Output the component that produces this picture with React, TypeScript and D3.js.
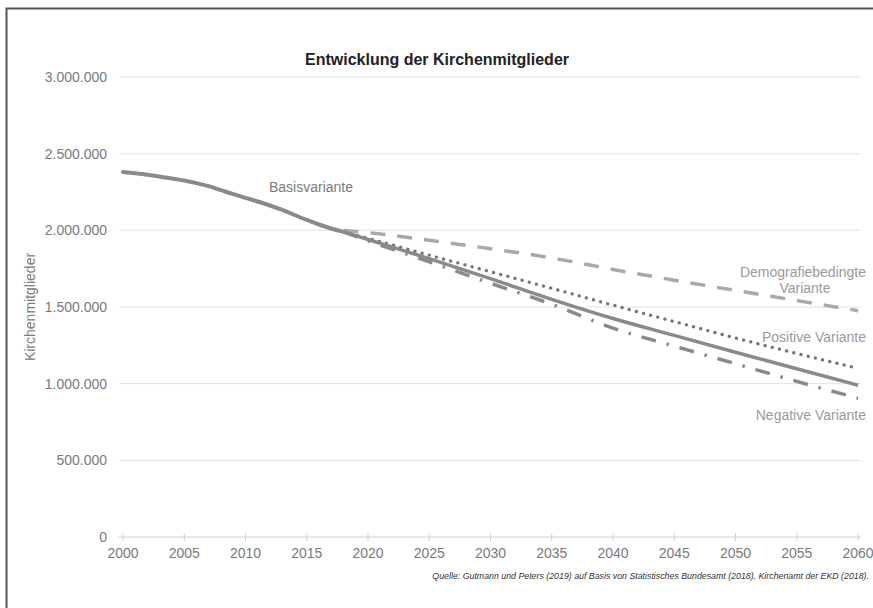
import * as d3 from "d3";

// Historical values (Basisvariante, annual)
const histYears = [2000, 2001, 2002, 2003, 2004, 2005, 2006, 2007, 2008, 2009, 2010, 2011, 2012, 2013, 2014, 2015, 2016, 2017, 2018];
const histValues = [2381000, 2372000, 2362000, 2350000, 2338000, 2325000, 2308000, 2288000, 2262000, 2236000, 2212000, 2188000, 2162000, 2133000, 2100000, 2068000, 2038000, 2012000, 1990000];

// Projection years and variants
const projYears = [2018, 2020, 2025, 2030, 2035, 2040, 2045, 2050, 2055, 2060];
const basisProj = [1990000, 1940000, 1815000, 1685000, 1550000, 1425000, 1315000, 1205000, 1097000, 990000];
const positiveProj = [1990000, 1948000, 1838000, 1730000, 1622000, 1512000, 1405000, 1298000, 1197000, 1100000];
const negativeProj = [1990000, 1932000, 1795000, 1655000, 1518000, 1362000, 1245000, 1130000, 1015000, 905000];
const demografieProj = [2000000, 1985000, 1935000, 1880000, 1820000, 1745000, 1675000, 1608000, 1542000, 1476000];

const xTicks = d3.range(2000, 2061, 5);
const yTicks = [0, 500000, 1000000, 1500000, 2000000, 2500000, 3000000];

const W = 873;
const H = 608;
const font = "Liberation Sans, Arial, sans-serif";

const fmt = (v: number) => (v === 0 ? "0" : d3.format(",")(v).replace(/,/g, "."));

export default function App() {
  const x = d3.scaleLinear().domain([2000, 2060]).range([123, 858]);
  const y = d3.scaleLinear().domain([0, 3000000]).range([537, 77]);

  const line = d3
    .line<[number, number]>()
    .x((d) => x(d[0]))
    .y((d) => y(d[1]))
    .curve(d3.curveMonotoneX);

  const zip = (ys: number[], vs: number[]) => ys.map((yr, i) => [yr, vs[i]] as [number, number]);

  const series = [
    { key: "demo", data: zip(projYears, demografieProj), stroke: "#a9a9a9", width: 3.5, dash: "15 12", cap: "butt" },
    { key: "pos", data: zip(projYears, positiveProj), stroke: "#767676", width: 3.3, dash: "0.1 7.3", cap: "round" },
    { key: "neg", data: zip(projYears, negativeProj), stroke: "#8a8a8a", width: 3.5, dash: "15 11 2.5 11", cap: "butt" },
    { key: "basis", data: zip(projYears, basisProj), stroke: "#8a8a8a", width: 3.5, dash: "none", cap: "butt" },
    { key: "hist", data: zip(histYears, histValues), stroke: "#8a8a8a", width: 4, dash: "none", cap: "round" },
  ];

  return (
    <svg width={W} height={H} style={{ position: "absolute", left: 0, top: 0 }} fontFamily={font}>
      <rect x={0} y={0} width={W} height={H} fill="#fff" />
      <rect x={6.5} y={8.5} width={W + 10} height={H + 10} fill="none" stroke="#555" strokeWidth={2} />

      <text x={437} y={65} textAnchor="middle" fontSize={16} fontWeight="bold" fill="#222">
        Entwicklung der Kirchenmitglieder
      </text>

      {/* grid + y labels */}
      {yTicks.map((t) => (
        <g key={t}>
          {t > 0 && <line x1={119} x2={861} y1={y(t)} y2={y(t)} stroke="#e0e0e0" strokeWidth={1} />}
          <text x={107} y={y(t)} dy="0.35em" textAnchor="end" fontSize={14} fill="#7a7a7a">
            {fmt(t)}
          </text>
        </g>
      ))}

      {/* x axis */}
      <line x1={119} x2={861} y1={y(0)} y2={y(0)} stroke="#cfcfcf" strokeWidth={1} />
      {xTicks.map((t) => (
        <g key={t}>
          <line x1={x(t)} x2={x(t)} y1={y(0) - 4} y2={y(0) + 4} stroke="#cfcfcf" strokeWidth={1} />
          <text x={x(t)} y={558} textAnchor="middle" fontSize={14} fill="#7a7a7a">
            {t}
          </text>
        </g>
      ))}

      <text
        transform={`translate(35,${y(1500000)}) rotate(-90)`}
        textAnchor="middle"
        fontSize={14}
        fill="#7a7a7a"
      >
        Kirchenmitglieder
      </text>

      {series.map((s) => (
        <path
          key={s.key}
          d={line(s.data) || ""}
          fill="none"
          stroke={s.stroke}
          strokeWidth={s.width}
          strokeDasharray={s.dash}
          strokeLinecap={s.cap as any}
        />
      ))}

      <g fontSize={14} fill="#9a9a9a">
        <text x={311} y={192} textAnchor="middle" fill="#7a7a7a">Basisvariante</text>
        <text x={866} y={277} textAnchor="end">Demografiebedingte</text>
        <text x={805} y={293} textAnchor="middle">Variante</text>
        <text x={866} y={342} textAnchor="end">Positive Variante</text>
        <text x={866} y={420} textAnchor="end">Negative Variante</text>
      </g>

      <text x={869} y={579} textAnchor="end" fontSize={8.8} fontStyle="italic" fill="#333">
        Quelle: Gutmann und Peters (2019) auf Basis von Statistisches Bundesamt (2018), Kirchenamt der EKD (2018).
      </text>
    </svg>
  );
}
